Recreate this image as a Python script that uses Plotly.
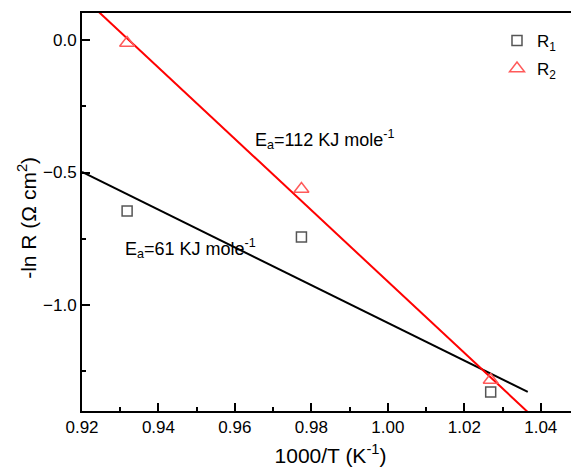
import plotly.graph_objects as go

# Data
invT = [0.9318, 0.9774, 1.0269]
R1 = [-0.645, -0.743, -1.328]
R2 = [-0.011, -0.562, -1.283]

fit_x = [0.92, 1.0366]
R1_fit = [-0.498, -1.328]
R2_fit = [0.165, -1.404]

x_ticks = [0.92, 0.94, 0.96, 0.98, 1.00, 1.02, 1.04]
y_ticks = [0.0, -0.5, -1.0]

font_family = "Liberation Sans, Arial, sans-serif"

fig = go.Figure()
fig.add_trace(go.Scatter(x=fit_x, y=R1_fit, mode="lines",
                         line=dict(color="black", width=2), showlegend=False))
fig.add_trace(go.Scatter(x=fit_x, y=R2_fit, mode="lines",
                         line=dict(color="#ff0000", width=2), showlegend=False))
fig.add_trace(go.Scatter(x=invT, y=R1, mode="markers", name="R<sub>1</sub>",
                         legendgroup="a",
                         marker=dict(symbol="square-open", size=10, color="#555555",
                                     line=dict(width=1.5))))
fig.add_trace(go.Scatter(x=invT, y=R2, mode="markers", name="R<sub>2</sub>",
                         legendgroup="b",
                         marker=dict(symbol="triangle-up-open", size=13, color="#ff5a5a",
                                     line=dict(width=1.5))))

fig.add_annotation(x=0.9646, y=-0.375, xref="x", yref="y", xanchor="left",
                   text="E<sub>a</sub>=112 KJ mole<sup>-1</sup>", showarrow=False,
                   font=dict(size=18, color="black", family=font_family))
fig.add_annotation(x=0.9308, y=-0.785, xref="x", yref="y", xanchor="left",
                   text="E<sub>a</sub>=61 KJ mole<sup>-1</sup>", showarrow=False,
                   font=dict(size=18, color="black", family=font_family))
# y-axis title placed as rotated annotation for precise position
fig.add_annotation(x=-0.111, y=0.485, xref="paper", yref="paper",
                   xanchor="center", yanchor="middle", textangle=-90,
                   text="-ln R (\u03a9 cm<sup>2</sup>)", showarrow=False,
                   font=dict(size=21, color="black", family=font_family))

fig.update_layout(
    width=571, height=465,
    margin=dict(l=74, r=0, t=5, b=62),
    paper_bgcolor="white", plot_bgcolor="white",
    font=dict(family=font_family, size=17, color="black"),
    legend=dict(x=0.835, y=0.975, xanchor="left", yanchor="top",
                bgcolor="rgba(0,0,0,0)", font=dict(size=17),
                itemwidth=30, tracegroupgap=3),
    xaxis=dict(range=[0.92, 1.05], tickvals=x_ticks, tickformat=".2f",
               ticks="inside", ticklen=8, tickwidth=1.5, tickcolor="black",
               showline=True, linewidth=2, linecolor="black", mirror=True,
               showgrid=False, zeroline=False, tickfont=dict(size=17),
               minor=dict(dtick=0.01, tick0=0.92, ticks="inside", ticklen=4,
                          tickwidth=1.5, tickcolor="black", showgrid=False),
               title=dict(text="1000/T (K<sup>-1</sup>)", font=dict(size=21), standoff=12)),
    yaxis=dict(range=[-1.40, 0.102], tickvals=y_ticks, tickformat=".1f",
               ticks="inside", ticklen=8, tickwidth=1.5, tickcolor="black",
               showline=True, linewidth=2, linecolor="black", mirror=False,
               showgrid=False, zeroline=False, tickfont=dict(size=17),
               minor=dict(dtick=0.25, tick0=0, ticks="inside", ticklen=4,
                          tickwidth=1.5, tickcolor="black", showgrid=False)),
)

fig.write_html("out.html")
